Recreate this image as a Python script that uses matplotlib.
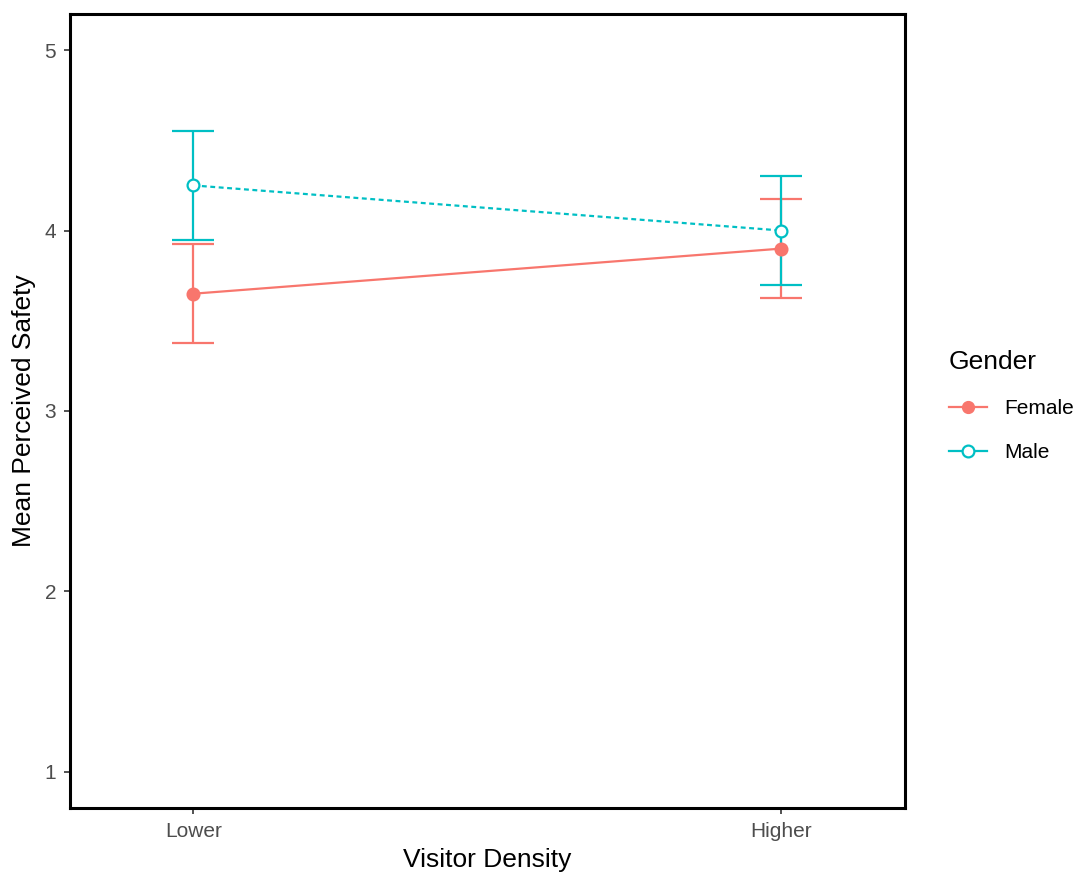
import matplotlib
matplotlib.use("Agg")
from matplotlib import pyplot as plt
from matplotlib.lines import Line2D

plt.rcParams["font.family"] = ["Liberation Sans", "DejaVu Sans"]

# data
density = ["Lower", "Higher"]
female_mean = [3.65, 3.90]
female_lo = [3.375, 3.625]
female_hi = [3.925, 4.175]
male_mean = [4.25, 4.00]
male_lo = [3.95, 3.70]
male_hi = [4.55, 4.30]

red = "#F8766D"
teal = "#00BFC4"

fig = plt.figure(figsize=(10.83, 8.75), dpi=100)
ax = fig.add_axes([0.0646, 0.0766, 0.771, 0.9074])
x = [1, 2]


def draw(mean, lo, hi, color, ls, filled):
    yerr = [[m - l for m, l in zip(mean, lo)], [h - m for m, h in zip(mean, hi)]]
    ax.errorbar(x, mean, yerr=yerr, fmt="none", ecolor=color, elinewidth=1.6,
                capsize=15, capthick=1.6, zorder=2)
    ax.plot(x, mean, color=color, lw=1.6, ls=ls, zorder=3)
    ax.plot(x, mean, ls="none", marker="o", ms=8.5,
            mfc=color if filled else "white", mec=color, mew=1.6, zorder=4)


draw(female_mean, female_lo, female_hi, red, "-", True)
draw(male_mean, male_lo, male_hi, teal, (0, (2.2, 1.6)), False)

ax.set_xlim(0.79, 2.21)
ax.set_ylim(0.8, 5.2)
ax.set_xticks(x)
ax.set_xticklabels(density)
ax.set_yticks([1, 2, 3, 4, 5])
ax.tick_params(colors="#333333", labelcolor="#4D4D4D", labelsize=15, length=4, width=1.2, pad=6)
for s in ax.spines.values():
    s.set_linewidth(2.2)
    s.set_color("black")

ax.set_xlabel("Visitor Density", fontsize=19, labelpad=5)
ax.set_ylabel("Mean Perceived Safety", fontsize=19, labelpad=6)

handles = [
    Line2D([], [], color=red, lw=1.6, marker="o", ms=8.5, mfc=red, mec=red),
    Line2D([], [], color=teal, lw=1.6, marker="o", ms=8.5, mfc="white", mec=teal, mew=1.6),
]
leg = fig.legend(handles, ["Female", "Male"], title="Gender", loc="upper left",
                 bbox_to_anchor=(0.876, 0.600), frameon=False, fontsize=15,
                 title_fontsize=19, handlelength=1.85, handletextpad=0.8,
                 labelspacing=1.2, borderaxespad=0, borderpad=0)
leg._legend_box.align = "left"

fig.savefig("out.png", dpi=100)
